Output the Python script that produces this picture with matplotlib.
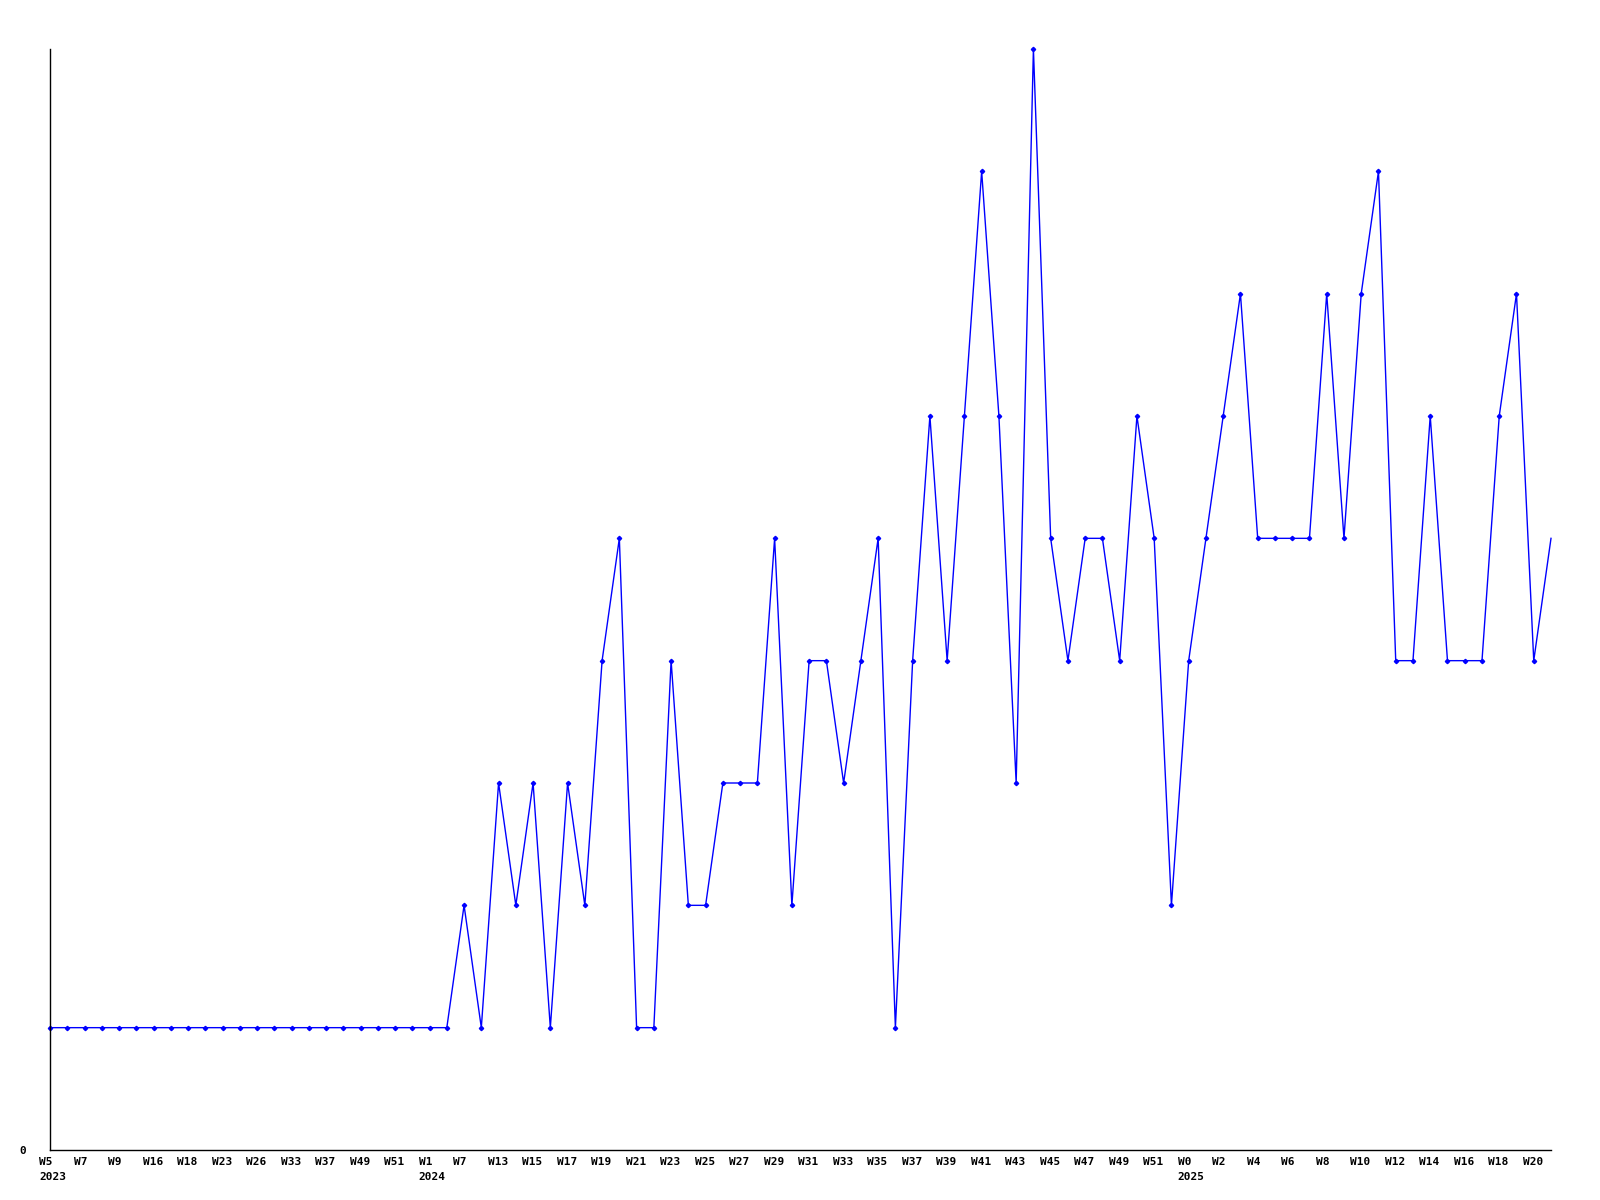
import numpy as np
import matplotlib
matplotlib.use("Agg")
import matplotlib.pyplot as plt
import matplotlib.transforms as mtransforms

# weekly values, W5 2023 .. W21 2025 (88 weeks)
values = [1, 1, 1, 1, 1, 1, 1, 1, 1, 1, 1, 1, 1, 1, 1, 1, 1, 1, 1, 1, 1, 1,
          1, 1, 2, 1, 3, 2, 3, 1, 3, 2, 4, 5, 1, 1, 4, 2, 2, 3, 3, 3,
          5, 2, 4, 4, 3, 4, 5, 1, 4, 6, 4, 6, 8, 6, 3, 9, 5, 4, 5, 5,
          4, 6, 5, 2, 4, 5, 6, 7, 5, 5, 5, 5, 7, 5, 7, 8, 4, 4, 6, 4,
          4, 4, 6, 7, 4, 5]

# every other week gets a label
tick_labels = ["W5\n2023", "W7", "W9", "W16", "W18", "W23", "W26", "W33", "W37",
               "W49", "W51", "W1\n2024", "W7", "W13", "W15", "W17", "W19", "W21",
               "W23", "W25", "W27", "W29", "W31", "W33", "W35", "W37", "W39",
               "W41", "W43", "W45", "W47", "W49", "W51", "W0\n2025", "W2", "W4",
               "W6", "W8", "W10", "W12", "W14", "W16", "W18", "W20"]

x = np.arange(len(values))

fig = plt.figure(figsize=(16, 12), dpi=100)
ax = fig.add_axes([50 / 1600, 50 / 1200, 1501 / 1600, 1101 / 1200])

# last point sits on the right edge with no marker, like the original
ax.plot(x, values, color="#0000ff", linewidth=1.0, marker="D",
        markersize=2.2, markevery=list(range(len(values) - 1)), clip_on=False)

ax.set_xlim(0, len(values) - 1)
ax.set_ylim(0, 9)

for s in ["top", "right"]:
    ax.spines[s].set_visible(False)
for s in ["left", "bottom"]:
    ax.spines[s].set_linewidth(1)
    ax.spines[s].set_color("black")

ax.set_yticks([0])
ax.set_yticklabels(["0"], fontfamily="DejaVu Sans Mono", fontweight="bold",
                   fontsize=8)
ax.tick_params(axis="y", length=0, pad=22)

ax.set_xticks(x[::2])
ax.set_xticklabels(tick_labels, fontfamily="DejaVu Sans Mono",
                   fontweight="bold", fontsize=8, linespacing=1.6)
ax.tick_params(axis="x", length=0, pad=5)
shift = mtransforms.ScaledTranslation(-11 / 100, 0, fig.dpi_scale_trans)
for lab in ax.get_xticklabels():
    lab.set_horizontalalignment("left")
    lab.set_multialignment("left")
    lab.set_transform(lab.get_transform() + shift)
for lab in ax.get_yticklabels():
    lab.set_horizontalalignment("left")

fig.savefig("out.png", dpi=100)
